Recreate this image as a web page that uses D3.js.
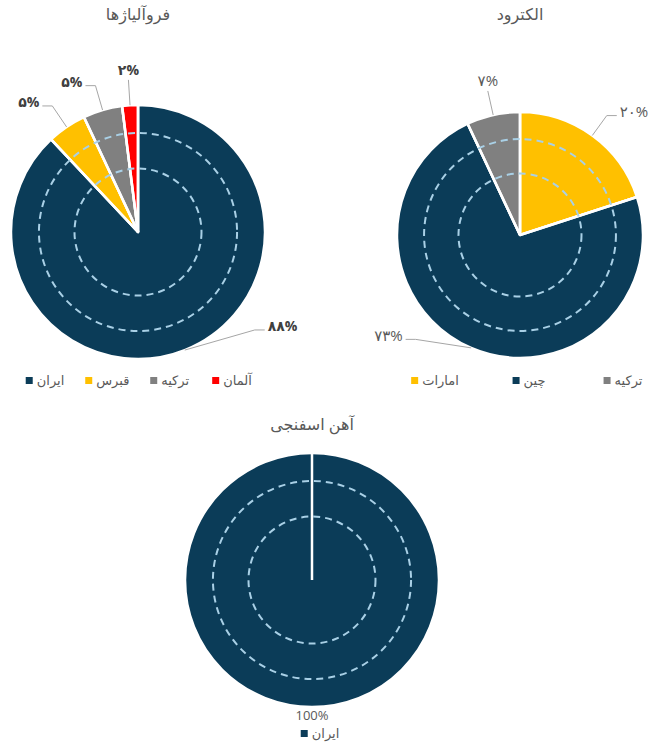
<!DOCTYPE html>
<html>
<head>
<meta charset="utf-8">
<script src="https://cdn.jsdelivr.net/npm/d3@7"></script>
<style>
  body { margin: 0; background: #fff; }
  text { font-family: "Open Sans", "DejaVu Sans", sans-serif; }
</style>
</head>
<body>
<svg id="chart" width="657" height="747"></svg>
<script>
// chart data
var alloyTitle = 'فروآلیاژها';
var alloyCategories = ['ایران', 'قبرس', 'ترکیه', 'آلمان'];
var alloyValues = [88, 5, 5, 2];

var electrodeTitle = 'الکترود';
var electrodeCategories = ['امارات', 'چین', 'ترکیه'];
var electrodeValues = [20, 73, 7];

var spongeTitle = 'آهن اسفنجی';
var spongeCategories = ['ایران'];
var spongeValues = [100];

var countryColors = {
    'ایران': '#0b3c58',
    'چین': '#0b3c58',
    'قبرس': '#ffc000',
    'امارات': '#ffc000',
    'ترکیه': '#808080',
    'آلمان': '#ff0000'
};

var persianDigits = '۰۱۲۳۴۵۶۷۸۹';
function toPersian(n) {
    return String(n).replace(/[0-9]/g, function (d) { return persianDigits[+d]; });
}

// panel layout (positions only, no data)
var panels = [
    { title: alloyTitle, cats: alloyCategories, vals: alloyValues,
      cx: 138, cy: 232, r: 127, titleY: 20, legendY: 381, legendRange: [45, 232],
      labelBold: true, labelColor: '#404040', labelSize: 14, persian: true },
    { title: electrodeTitle, cats: electrodeCategories, vals: electrodeValues,
      cx: 520, cy: 235, r: 123, titleY: 20, legendY: 381, legendRange: [435, 623],
      labelBold: false, labelColor: '#595959', labelSize: 15, persian: true },
    { title: spongeTitle, cats: spongeCategories, vals: spongeValues,
      cx: 312, cy: 580, r: 127, titleY: 430, legendY: 734, legendRange: [320, 320],
      labelBold: false, labelColor: '#595959', labelSize: 13, persian: false }
];

var svg = d3.select('#chart');

var pie = d3.pie().sort(null).value(function (d) { return d.value; });

panels.forEach(function (p) {
    var data = p.cats.map(function (c, i) { return { cat: c, value: p.vals[i] }; });
    var arcs = pie(data);
    var g = svg.append('g');

    g.append('text')
        .attr('x', p.cx)
        .attr('y', p.titleY)
        .attr('text-anchor', 'middle')
        .attr('font-size', 16)
        .attr('fill', '#595959')
        .text(p.title);

    var pieG = g.append('g').attr('transform', 'translate(' + p.cx + ',' + p.cy + ')');
    var arc = d3.arc().innerRadius(0).outerRadius(p.r);

    pieG.selectAll('path.slice')
        .data(arcs)
        .enter()
        .append('path')
        .attr('class', 'slice')
        .attr('d', arc)
        .attr('fill', function (d) { return countryColors[d.data.cat]; })
        .attr('stroke', '#fff')
        .attr('stroke-width', 2.5)
        .attr('stroke-linejoin', 'round');

    // slice boundaries (also shows the seam on a full circle)
    pieG.selectAll('line.seam')
        .data(arcs)
        .enter()
        .append('line')
        .attr('class', 'seam')
        .attr('x1', 0).attr('y1', 0)
        .attr('x2', function (d) { return p.r * Math.sin(d.startAngle); })
        .attr('y2', function (d) { return -p.r * Math.cos(d.startAngle); })
        .attr('stroke', '#fff')
        .attr('stroke-width', 2.5);

    // dashed rings
    pieG.selectAll('circle.ring')
        .data([0.78, 0.5])
        .enter()
        .append('circle')
        .attr('class', 'ring')
        .attr('r', function (k) { return p.r * k; })
        .attr('fill', 'none')
        .attr('stroke', '#a9d0e6')
        .attr('stroke-width', 2)
        .attr('stroke-dasharray', '7,5');

    // data labels with leader lines
    arcs.forEach(function (d) {
        var txt = p.persian ? toPersian(d.data.value) + '%' : d.data.value + '%';
        var label = pieG.append('text')
            .attr('font-size', p.labelSize)
            .attr('font-weight', p.labelBold ? 'bold' : 'normal')
            .attr('fill', p.labelColor)
            .text(txt);

        if (arcs.length === 1) {
            label.attr('x', 0).attr('y', p.r + 13).attr('text-anchor', 'middle');
            return;
        }

        var mid = (d.startAngle + d.endAngle) / 2;
        var deg = mid * 180 / Math.PI;
        var ang = deg;
        if (deg > 135 && deg < 225) ang = deg < 180 ? 130 : 225;
        var a = ang * Math.PI / 180;
        var x0 = p.r * Math.sin(mid), y0 = -p.r * Math.cos(mid);
        var rr = p.r * 1.2;
        var x1 = rr * Math.sin(a), y1 = -rr * Math.cos(a);
        var pts;
        if (Math.abs(Math.sin(a)) < 0.25) {
            pts = [[x0, y0], [x1, y1]];
            label.attr('x', x1).attr('y', y1 - 5).attr('text-anchor', 'middle');
        } else {
            var side = Math.sin(a) > 0 ? 1 : -1;
            var x2 = x1 + side * 10;
            pts = [[x0, y0], [x1, y1], [x2, y1]];
            label.attr('x', x2 + side * 3).attr('y', y1)
                .attr('dy', '0.1em')
                .attr('text-anchor', side > 0 ? 'start' : 'end');
        }
        pieG.insert('path', 'text')
            .attr('d', d3.line()(pts))
            .attr('fill', 'none')
            .attr('stroke', '#a6a6a6')
            .attr('stroke-width', 1);
    });

    // legend
    var lx = d3.scalePoint().domain(p.cats).range(p.legendRange);
    var items = g.selectAll('g.legend')
        .data(p.cats)
        .enter()
        .append('g')
        .attr('class', 'legend')
        .attr('transform', function (c) { return 'translate(' + lx(c) + ',' + p.legendY + ')'; });

    items.each(function (c) {
        var it = d3.select(this);
        var t = it.append('text')
            .attr('font-size', 13)
            .attr('fill', '#595959')
            .attr('y', 4)
            .text(c);
        var w = t.node().getComputedTextLength();
        var total = w + 11;
        t.attr('x', -total / 2 + 11);
        it.append('rect')
            .attr('x', -total / 2)
            .attr('y', -4)
            .attr('width', 7)
            .attr('height', 7)
            .attr('fill', countryColors[c]);
    });
});
</script>
</body>
</html>
